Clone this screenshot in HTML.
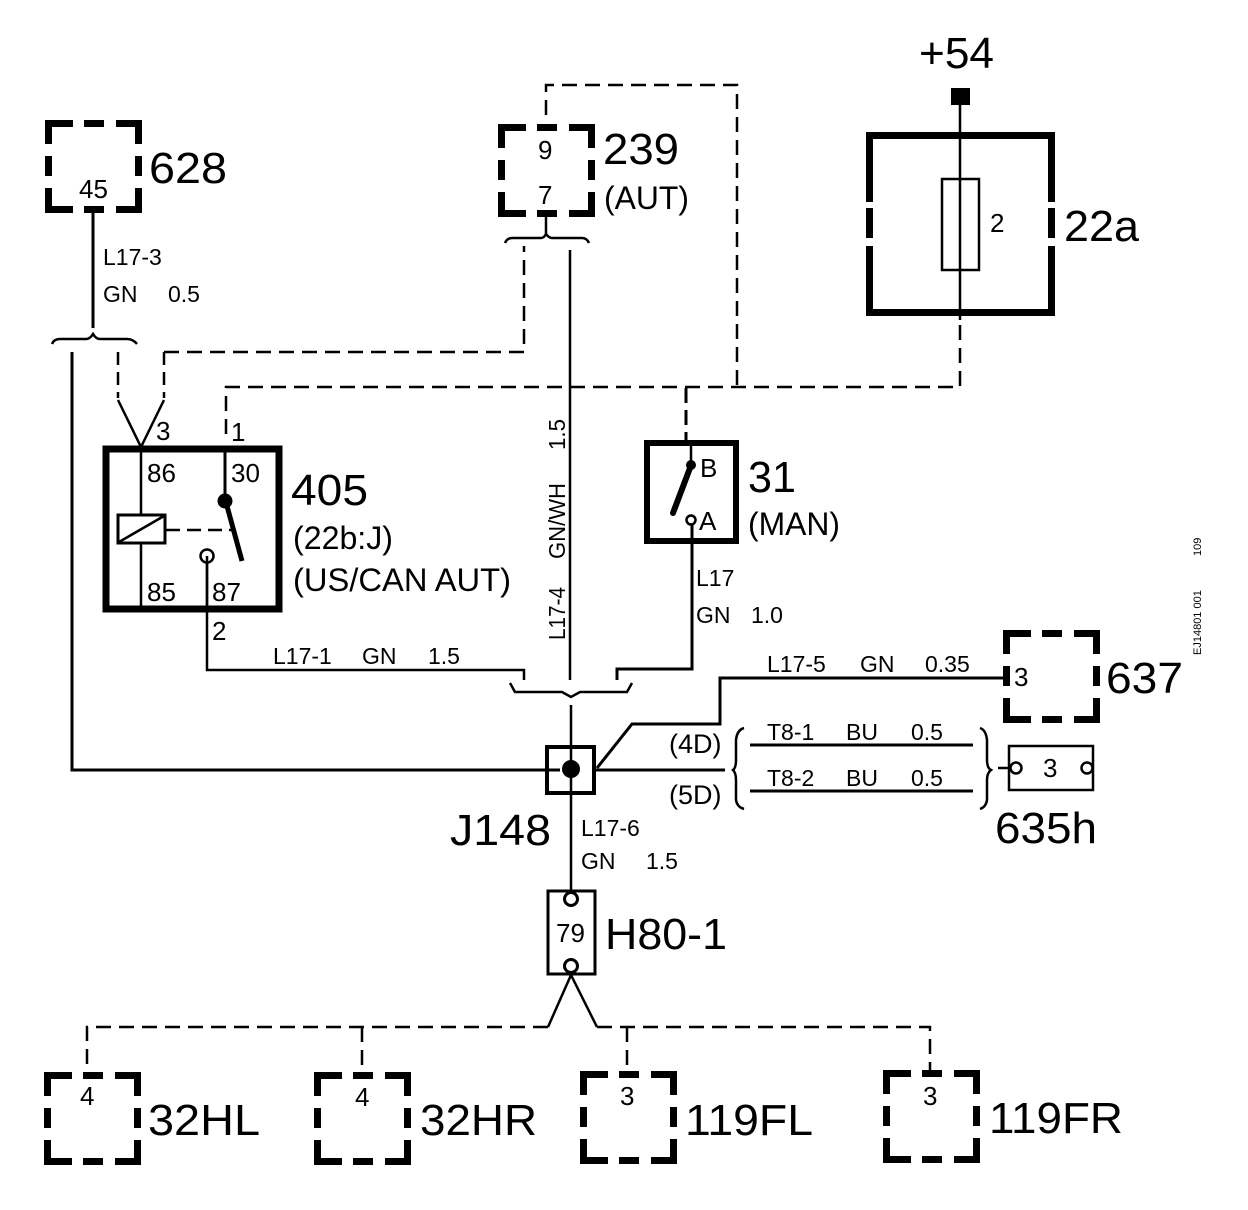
<!DOCTYPE html>
<html><head><meta charset="utf-8"><style>
html,body{margin:0;padding:0;background:#fff}
svg{display:block}
text{font-family:"Liberation Sans",sans-serif;fill:#000}
.b{font-size:44px}.m{font-size:32px}.s{font-size:26px}.t{font-size:23px}
</style></head><body>
<svg width="1248" height="1210" viewBox="0 0 1248 1210" xmlns="http://www.w3.org/2000/svg">
<defs>
<path id="db" fill="none" stroke="#000" stroke-width="7" d="M3.5 24V3.5H28M39 3.5H59M71 3.5H93.5V24M93.5 36V56M93.5 68V89.5H71M59 89.5H39M28 89.5H3.5V68M3.5 56V36"/>
</defs>
<rect width="1248" height="1210" fill="#fff"/>
<use href="#db" x="45" y="120"/>
<use href="#db" x="498" y="124"/>
<use href="#db" x="1003" y="630"/>
<use href="#db" x="44" y="1072"/>
<use href="#db" x="314" y="1072"/>
<use href="#db" x="580" y="1071"/>
<use href="#db" x="883" y="1070"/>

<g fill="none" stroke="#000" stroke-width="2.5">
<!-- 628 wire -->
<path d="M93 212V328" stroke-width="3"/>
<path d="M52 344Q54 339 60 339H86Q90 339 93 334Q96 339 100 339H127Q133 339 137 344"/>
<path d="M72 352V770H560" stroke-width="3"/>
<path d="M118 352V398M164 352V398" stroke-dasharray="13 7"/>
<path d="M118 400L141 447L164 400"/>
<path d="M164 352H524V246" stroke-dasharray="15 8"/>
<!-- 239 -->
<path d="M546 214V235"/>
<path d="M505 243Q507 238 512 238H541Q544 238 546 234Q549 238 552 238H582Q587 238 589 243"/>
<path d="M570 250V680"/>
<path d="M546 115V85H737V388" stroke-dasharray="15 8"/>
<!-- 22a -->
<path d="M960 100V320"/>
<path d="M960 325V387H226V440" stroke-dasharray="15 8"/>
<path d="M686 388V440" stroke-dasharray="15 7" stroke-width="3"/>
<rect x="942" y="179" width="37" height="91"/>
<!-- bracket -->
<path d="M510 683L515 692H562L571 697L580 692H627L632 683"/>
<path d="M207 556V670H524V680"/>
<path d="M617 680V669H692V525" stroke-width="3"/>
<path d="M571 705V892"/>
<path d="M597 768L632 724H720V678H1003" stroke-width="3"/>
<path d="M596 770H725" stroke-width="3"/>
<rect x="547" y="747" width="47" height="46" stroke-width="4"/>
<path d="M750 745H973M750 791H973" stroke-width="3"/>
<path d="M744 728Q737 730 736 740V760Q736 768 733 770Q736 773 736 780V800Q737 807 744 809"/>
<path d="M980 728Q986 730 987 740V760Q987 768 991 770Q987 773 987 780V800Q986 807 980 809"/>
<path d="M998 768H1011"/>
<rect x="1009" y="746" width="84" height="44"/>
<circle cx="1016" cy="768" r="5.5"/>
<circle cx="1087" cy="768" r="5.5"/>
<!-- H80 -->
<rect x="548" y="891" width="47" height="83" stroke-width="3"/>
<circle cx="571" cy="899" r="6.5" fill="#fff" stroke-width="3"/>
<circle cx="571" cy="966" r="6.5" fill="#fff" stroke-width="3"/>
<path d="M571 975L548 1027M571 975L597 1027"/>
<path d="M548 1027H87V1072M597 1027H930V1070M362 1027V1072M627 1027V1071" stroke-dasharray="15 8"/>
<!-- 405 -->
<rect x="106" y="449" width="173" height="160" stroke-width="7"/>
<path d="M141 449V514M141 544V606"/>
<rect x="118" y="515" width="47" height="28" stroke-width="3"/>
<path d="M119 542L164 516"/>
<path d="M166 530H232" stroke-dasharray="14 7"/>
<path d="M225 452V500" stroke-width="3"/>
<path d="M227 506L242 561" stroke-width="5"/>
<circle cx="207" cy="556" r="6.5"/>
<path d="M207 563V612"/>
<!-- 31 -->
<rect x="647" y="443" width="89" height="98" stroke-width="6"/>
<path d="M691 446V465"/>
<path d="M690 468L673 513" stroke-width="6" stroke-linecap="round"/>
<circle cx="691" cy="520" r="4.5"/>
</g>
<rect x="869.5" y="135.5" width="182" height="177" fill="none" stroke="#000" stroke-width="7"/>
<rect x="860" y="202" width="20" height="6" fill="#fff"/>
<rect x="1040" y="202" width="20" height="6" fill="#fff"/>
<rect x="860" y="238" width="20" height="8" fill="#fff"/>
<rect x="1040" y="238" width="20" height="8" fill="#fff"/>
<rect x="951" y="88" width="19" height="17"/>
<circle cx="225" cy="501" r="7.5"/>
<circle cx="571" cy="769" r="9"/>
<circle cx="691" cy="465" r="5"/>

<text class="b" x="149" y="183" textLength="78" lengthAdjust="spacingAndGlyphs">628</text>
<text class="b" x="603" y="164" textLength="76" lengthAdjust="spacingAndGlyphs">239</text>
<text class="m" x="604" y="209" textLength="85" lengthAdjust="spacingAndGlyphs">(AUT)</text>
<text class="b" x="919" y="68" textLength="75" lengthAdjust="spacingAndGlyphs">+54</text>
<text class="b" x="1064" y="241" textLength="75" lengthAdjust="spacingAndGlyphs">22a</text>
<text class="b" x="291" y="505" textLength="77" lengthAdjust="spacingAndGlyphs">405</text>
<text class="m" x="293" y="549" textLength="100" lengthAdjust="spacingAndGlyphs">(22b:J)</text>
<text class="m" x="293" y="591" textLength="218" lengthAdjust="spacingAndGlyphs">(US/CAN AUT)</text>
<text class="b" x="748" y="492" textLength="48" lengthAdjust="spacingAndGlyphs">31</text>
<text class="m" x="748" y="535" textLength="92" lengthAdjust="spacingAndGlyphs">(MAN)</text>
<text class="b" x="1106" y="693" textLength="77" lengthAdjust="spacingAndGlyphs">637</text>
<text class="b" x="995" y="843" textLength="102" lengthAdjust="spacingAndGlyphs">635h</text>
<text class="b" x="450" y="845" textLength="101" lengthAdjust="spacingAndGlyphs">J148</text>
<text class="b" x="605" y="949" textLength="122" lengthAdjust="spacingAndGlyphs">H80-1</text>
<text class="b" x="148" y="1135" textLength="112" lengthAdjust="spacingAndGlyphs">32HL</text>
<text class="b" x="420" y="1135" textLength="117" lengthAdjust="spacingAndGlyphs">32HR</text>
<text class="b" x="685" y="1135" textLength="128" lengthAdjust="spacingAndGlyphs">119FL</text>
<text class="b" x="989" y="1133" textLength="134" lengthAdjust="spacingAndGlyphs">119FR</text>

<text class="s" x="79" y="198">45</text>
<text class="s" x="538" y="159">9</text>
<text class="s" x="538" y="204">7</text>
<text class="s" x="990" y="232">2</text>
<text class="s" x="1014" y="686">3</text>
<text class="s" x="1043" y="777">3</text>
<text class="s" x="556" y="942">79</text>
<text class="s" x="80" y="1105">4</text>
<text class="s" x="355" y="1106">4</text>
<text class="s" x="620" y="1105">3</text>
<text class="s" x="923" y="1105">3</text>
<text class="s" x="156" y="440">3</text>
<text class="s" x="231" y="441">1</text>
<text class="s" x="147" y="482">86</text>
<text class="s" x="231" y="482">30</text>
<text class="s" x="147" y="601">85</text>
<text class="s" x="212" y="601">87</text>
<text class="s" x="212" y="640">2</text>
<text class="s" x="700" y="477">B</text>
<text class="s" x="699" y="530">A</text>
<text class="s" x="669" y="753" style="font-size:27px">(4D)</text>
<text class="s" x="669" y="804" style="font-size:27px">(5D)</text>

<text class="t" x="103" y="265">L17-3</text>
<text class="t" x="103" y="302">GN</text><text class="t" x="168" y="302">0.5</text>
<text class="t" x="273" y="664">L17-1</text><text class="t" x="362" y="664">GN</text><text class="t" x="428" y="664">1.5</text>
<text class="t" x="696" y="586">L17</text>
<text class="t" x="696" y="623">GN</text><text class="t" x="751" y="623">1.0</text>
<text class="t" x="767" y="672">L17-5</text><text class="t" x="860" y="672">GN</text><text class="t" x="925" y="672">0.35</text>
<text class="t" x="767" y="740">T8-1</text><text class="t" x="846" y="740">BU</text><text class="t" x="911" y="740">0.5</text>
<text class="t" x="767" y="786">T8-2</text><text class="t" x="846" y="786">BU</text><text class="t" x="911" y="786">0.5</text>
<text class="t" x="581" y="836">L17-6</text>
<text class="t" x="581" y="869">GN</text><text class="t" x="646" y="869">1.5</text>
<text class="t" transform="translate(565 640) rotate(-90)" textLength="53" lengthAdjust="spacingAndGlyphs">L17-4</text>
<text class="t" transform="translate(565 559) rotate(-90)" textLength="76" lengthAdjust="spacingAndGlyphs">GN/WH</text>
<text class="t" transform="translate(565 450) rotate(-90)" textLength="31" lengthAdjust="spacingAndGlyphs">1.5</text>
<text font-size="11" transform="translate(1201 655) rotate(-90)">EJ14801 001</text>
<text font-size="11" transform="translate(1201 556) rotate(-90)">109</text>
</svg>
</body></html>
